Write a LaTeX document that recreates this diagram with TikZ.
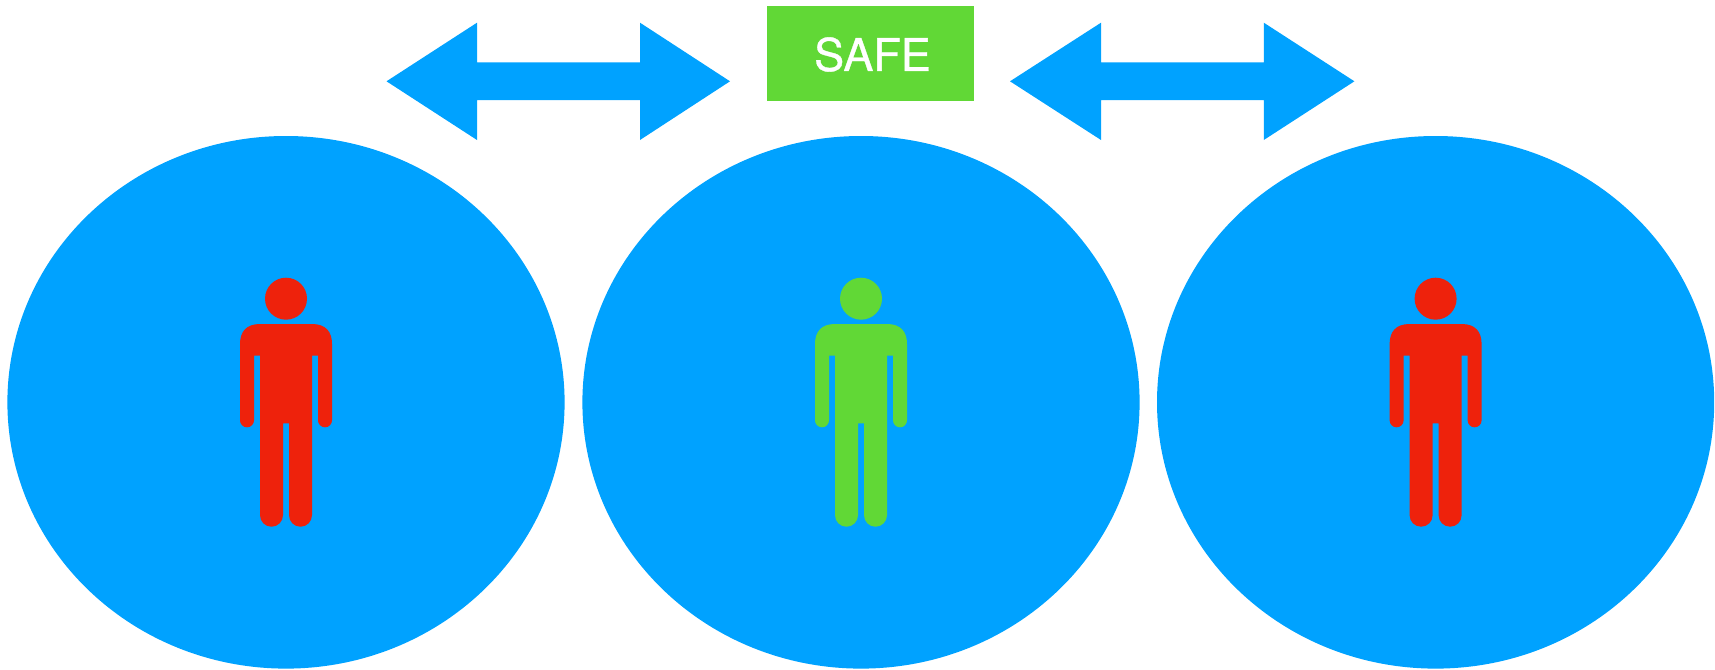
\documentclass[tikz,border=0pt]{standalone}
\usepackage{fontspec}
\setmainfont{TeX Gyre Heros}
\newfontfamily\safefont[RawFeature={embolden=0.8}]{TeX Gyre Heros}
\usetikzlibrary{shapes.geometric}
\definecolor{zoneblue}{HTML}{00A2FF}
\definecolor{dangerred}{HTML}{EE220C}
\definecolor{safegreen}{HTML}{61D836}
\tikzset{
  zone/.style={ellipse,fill=zoneblue,draw=none,inner sep=0pt,minimum width=557.2pt,minimum height=532.6pt},
  safebox/.style={rectangle,fill=safegreen,draw=none,inner sep=0pt,minimum width=207pt,minimum height=95pt},
  arrowshape/.style={fill=zoneblue,draw=none},
  pics/person/.style={code={
    \node[circle,fill=#1,draw=none,inner sep=0pt,minimum size=42pt] at (0,298.7) {};
    \fill[#1] (-26,324) -- (26,324)
      .. controls (40,324) and (46,332) .. (46,344)
      -- (46,420.3) .. controls (46,424.2) and (42.9,427.3) .. (39,427.3)
      .. controls (35.1,427.3) and (32,424.2) .. (32,420.3)
      -- (32,355.7) -- (26,355.7) -- (26,515.2)
      .. controls (26,521.6) and (20.9,526.7) .. (14.5,526.7)
      .. controls (8.1,526.7) and (3,521.6) .. (3,515.2)
      -- (3,423.3) -- (-3,423.3) -- (-3,515.2)
      .. controls (-3,521.6) and (-8.1,526.7) .. (-14.5,526.7)
      .. controls (-20.9,526.7) and (-26,521.6) .. (-26,515.2)
      -- (-26,355.7) -- (-32,355.7) -- (-32,420.3)
      .. controls (-32,424.2) and (-35.1,427.3) .. (-39,427.3)
      .. controls (-42.9,427.3) and (-46,424.2) .. (-46,420.3)
      -- (-46,344) .. controls (-46,332) and (-40,324) .. (-26,324) -- cycle;
  }}
}
\begin{document}
\begin{tikzpicture}[x=1pt,y=-1pt]
\useasboundingbox (0,0) rectangle (1715,669);
\node[zone] (zoneA) at (286,402.3) {};
\node[zone] (zoneB) at (861,402.3) {};
\node[zone] (zoneC) at (1435.6,402.3) {};
\pic at (286,0) {person=dangerred};
\pic at (861,0) {person=safegreen};
\pic at (1435.6,0) {person=dangerred};
\fill[arrowshape] (386.5,81.3) -- (477,22.7) -- (477,62.3) -- (640,62.3) -- (640,22.7) -- (730,81.3) -- (640,140) -- (640,100) -- (477,100) -- (477,140) -- cycle;
\fill[arrowshape] (1010,81.3) -- (1101,22.7) -- (1101,62.3) -- (1263.8,62.3) -- (1263.8,22.7) -- (1354.4,81.3) -- (1263.8,140) -- (1263.8,100) -- (1101,100) -- (1101,140) -- cycle;
\node[safebox] (safe) at (870.5,53.5) {};
\node[text=white,font=\safefont\fontsize{45}{45}\selectfont,inner sep=0pt] (safelabel) at (872.5,54.5) {SAFE};
\end{tikzpicture}
\end{document}
